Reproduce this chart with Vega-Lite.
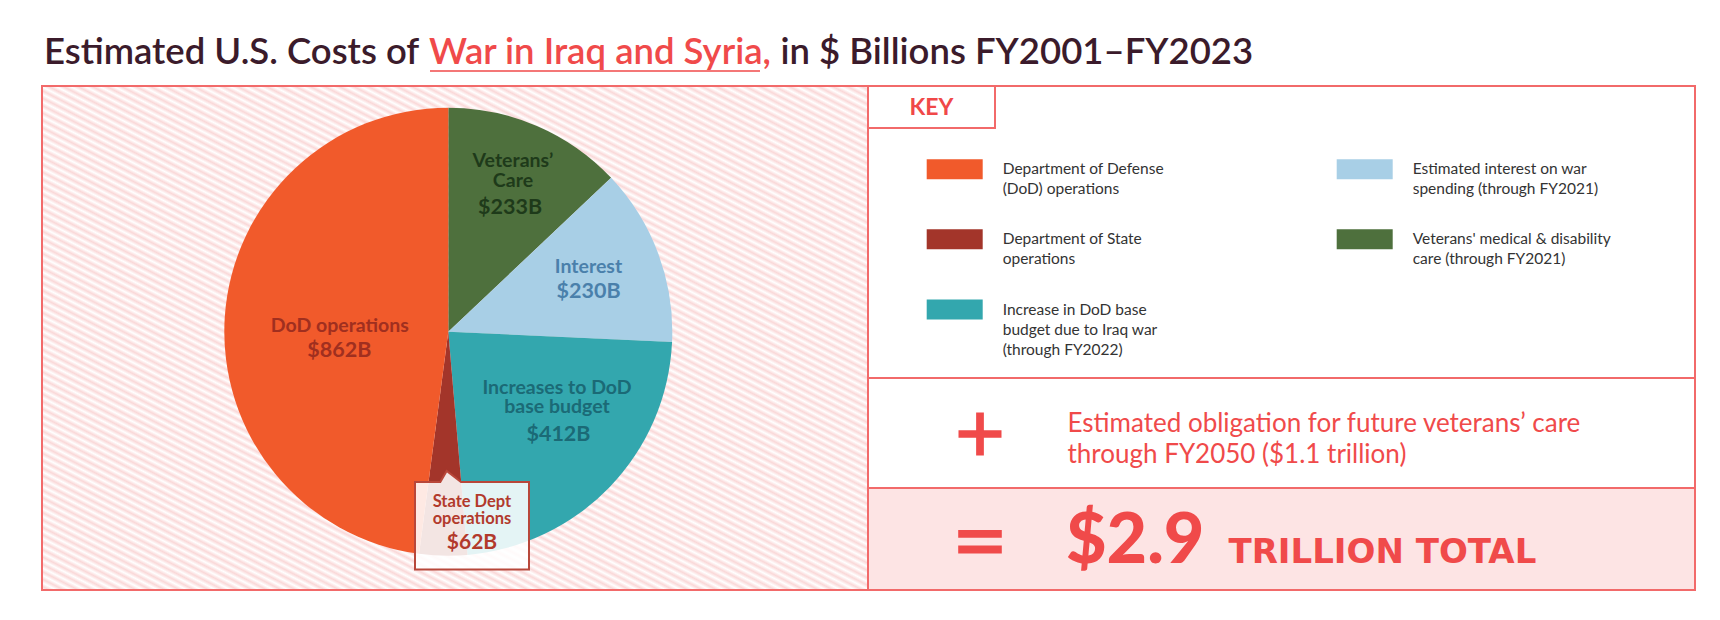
{
 "$schema": "https://vega.github.io/schema/vega-lite/v6.json",
 "background": "#ffffff",
 "padding": {"left": 41, "top": 0, "right": 0, "bottom": 0},
 "config": {
  "font": "Lato",
  "view": {"stroke": null},
  "concat": {"spacing": 0},
  "style": {"guide-label": {"lineHeight": 20}}
 },
 "spacing": 0,
 "bounds": "flush",
 "vconcat": [
  {
   "width": 1653, "height": 86,
   "data": {"values": [{"lead": "Estimated U.S. Costs of", "topic": "War in Iraq and Syria,", "tail": "in $ Billions FY2001–FY2023"}]},
   "layer": [
    {"mark": {"type": "text", "align": "left", "baseline": "alphabetic", "fontSize": 36.5, "fontWeight": 600, "color": "#3b1b2b", "dx": -824.5, "dy": 21}, "encoding": {"text": {"field": "lead", "type": "nominal"}}},
    {"mark": {"type": "text", "align": "left", "baseline": "alphabetic", "fontSize": 36.5, "fontWeight": 600, "color": "#f04a4a", "dx": -439.5, "dy": 21}, "encoding": {"text": {"field": "topic", "type": "nominal"}}},
    {"mark": {"type": "text", "align": "left", "baseline": "alphabetic", "fontSize": 36.5, "fontWeight": 600, "color": "#3b1b2b", "dx": -88, "dy": 21}, "encoding": {"text": {"field": "tail", "type": "nominal"}}},
    {"mark": {"type": "point", "shape": "M-1,-0.005H1V0.005H-1Z", "size": 108900, "filled": true, "color": "#f04a4a", "opacity": 1, "xOffset": -273.5, "yOffset": 28}, "encoding": {}}
   ]
  },
  {
   "spacing": 0,
   "bounds": "flush",
   "hconcat": [
    {
     "width": 826, "height": 504,
     "view": {
      "stroke": "#f26a6a", "strokeWidth": 2,
      "fill": {"gradient": "linear", "x1": 0, "y1": 1, "x2": 0.903, "y2": -0.081, "stops": [
{"offset":0,"color":"#fff"},{"offset":0.004,"color":"#fad8d8"},{"offset":0.008,"color":"#fff"},{"offset":0.012,"color":"#fad8d8"},{"offset":0.016,"color":"#fff"},{"offset":0.02,"color":"#fad8d8"},{"offset":0.024,"color":"#fff"},{"offset":0.028,"color":"#fad8d8"},{"offset":0.032,"color":"#fff"},{"offset":0.036,"color":"#fad8d8"},{"offset":0.04,"color":"#fff"},{"offset":0.044,"color":"#fad8d8"},{"offset":0.048,"color":"#fff"},{"offset":0.052,"color":"#fad8d8"},{"offset":0.056,"color":"#fff"},{"offset":0.06,"color":"#fad8d8"},{"offset":0.064,"color":"#fff"},{"offset":0.068,"color":"#fad8d8"},{"offset":0.072,"color":"#fff"},{"offset":0.076,"color":"#fad8d8"},{"offset":0.08,"color":"#fff"},{"offset":0.084,"color":"#fad8d8"},{"offset":0.088,"color":"#fff"},{"offset":0.092,"color":"#fad8d8"},{"offset":0.096,"color":"#fff"},
{"offset":0.1,"color":"#fad8d8"},{"offset":0.104,"color":"#fff"},{"offset":0.108,"color":"#fad8d8"},{"offset":0.112,"color":"#fff"},{"offset":0.116,"color":"#fad8d8"},{"offset":0.12,"color":"#fff"},{"offset":0.124,"color":"#fad8d8"},{"offset":0.128,"color":"#fff"},{"offset":0.132,"color":"#fad8d8"},{"offset":0.136,"color":"#fff"},{"offset":0.14,"color":"#fad8d8"},{"offset":0.144,"color":"#fff"},{"offset":0.148,"color":"#fad8d8"},{"offset":0.152,"color":"#fff"},{"offset":0.156,"color":"#fad8d8"},{"offset":0.16,"color":"#fff"},{"offset":0.164,"color":"#fad8d8"},{"offset":0.168,"color":"#fff"},{"offset":0.172,"color":"#fad8d8"},{"offset":0.176,"color":"#fff"},{"offset":0.18,"color":"#fad8d8"},{"offset":0.184,"color":"#fff"},{"offset":0.188,"color":"#fad8d8"},{"offset":0.192,"color":"#fff"},{"offset":0.196,"color":"#fad8d8"},
{"offset":0.2,"color":"#fff"},{"offset":0.204,"color":"#fad8d8"},{"offset":0.208,"color":"#fff"},{"offset":0.212,"color":"#fad8d8"},{"offset":0.216,"color":"#fff"},{"offset":0.22,"color":"#fad8d8"},{"offset":0.224,"color":"#fff"},{"offset":0.228,"color":"#fad8d8"},{"offset":0.232,"color":"#fff"},{"offset":0.236,"color":"#fad8d8"},{"offset":0.24,"color":"#fff"},{"offset":0.244,"color":"#fad8d8"},{"offset":0.248,"color":"#fff"},{"offset":0.252,"color":"#fad8d8"},{"offset":0.256,"color":"#fff"},{"offset":0.26,"color":"#fad8d8"},{"offset":0.264,"color":"#fff"},{"offset":0.268,"color":"#fad8d8"},{"offset":0.272,"color":"#fff"},{"offset":0.276,"color":"#fad8d8"},{"offset":0.28,"color":"#fff"},{"offset":0.284,"color":"#fad8d8"},{"offset":0.288,"color":"#fff"},{"offset":0.292,"color":"#fad8d8"},{"offset":0.296,"color":"#fff"},
{"offset":0.3,"color":"#fad8d8"},{"offset":0.304,"color":"#fff"},{"offset":0.308,"color":"#fad8d8"},{"offset":0.312,"color":"#fff"},{"offset":0.316,"color":"#fad8d8"},{"offset":0.32,"color":"#fff"},{"offset":0.324,"color":"#fad8d8"},{"offset":0.328,"color":"#fff"},{"offset":0.332,"color":"#fad8d8"},{"offset":0.336,"color":"#fff"},{"offset":0.34,"color":"#fad8d8"},{"offset":0.344,"color":"#fff"},{"offset":0.348,"color":"#fad8d8"},{"offset":0.352,"color":"#fff"},{"offset":0.356,"color":"#fad8d8"},{"offset":0.36,"color":"#fff"},{"offset":0.364,"color":"#fad8d8"},{"offset":0.368,"color":"#fff"},{"offset":0.372,"color":"#fad8d8"},{"offset":0.376,"color":"#fff"},{"offset":0.38,"color":"#fad8d8"},{"offset":0.384,"color":"#fff"},{"offset":0.388,"color":"#fad8d8"},{"offset":0.392,"color":"#fff"},{"offset":0.396,"color":"#fad8d8"},
{"offset":0.4,"color":"#fff"},{"offset":0.404,"color":"#fad8d8"},{"offset":0.408,"color":"#fff"},{"offset":0.412,"color":"#fad8d8"},{"offset":0.416,"color":"#fff"},{"offset":0.42,"color":"#fad8d8"},{"offset":0.424,"color":"#fff"},{"offset":0.428,"color":"#fad8d8"},{"offset":0.432,"color":"#fff"},{"offset":0.436,"color":"#fad8d8"},{"offset":0.44,"color":"#fff"},{"offset":0.444,"color":"#fad8d8"},{"offset":0.448,"color":"#fff"},{"offset":0.452,"color":"#fad8d8"},{"offset":0.456,"color":"#fff"},{"offset":0.46,"color":"#fad8d8"},{"offset":0.464,"color":"#fff"},{"offset":0.468,"color":"#fad8d8"},{"offset":0.472,"color":"#fff"},{"offset":0.476,"color":"#fad8d8"},{"offset":0.48,"color":"#fff"},{"offset":0.484,"color":"#fad8d8"},{"offset":0.488,"color":"#fff"},{"offset":0.492,"color":"#fad8d8"},{"offset":0.496,"color":"#fff"},
{"offset":0.5,"color":"#fad8d8"},{"offset":0.504,"color":"#fff"},{"offset":0.508,"color":"#fad8d8"},{"offset":0.512,"color":"#fff"},{"offset":0.516,"color":"#fad8d8"},{"offset":0.52,"color":"#fff"},{"offset":0.524,"color":"#fad8d8"},{"offset":0.528,"color":"#fff"},{"offset":0.532,"color":"#fad8d8"},{"offset":0.536,"color":"#fff"},{"offset":0.54,"color":"#fad8d8"},{"offset":0.544,"color":"#fff"},{"offset":0.548,"color":"#fad8d8"},{"offset":0.552,"color":"#fff"},{"offset":0.556,"color":"#fad8d8"},{"offset":0.56,"color":"#fff"},{"offset":0.564,"color":"#fad8d8"},{"offset":0.568,"color":"#fff"},{"offset":0.572,"color":"#fad8d8"},{"offset":0.576,"color":"#fff"},{"offset":0.58,"color":"#fad8d8"},{"offset":0.584,"color":"#fff"},{"offset":0.588,"color":"#fad8d8"},{"offset":0.592,"color":"#fff"},{"offset":0.596,"color":"#fad8d8"},
{"offset":0.6,"color":"#fff"},{"offset":0.604,"color":"#fad8d8"},{"offset":0.608,"color":"#fff"},{"offset":0.612,"color":"#fad8d8"},{"offset":0.616,"color":"#fff"},{"offset":0.62,"color":"#fad8d8"},{"offset":0.624,"color":"#fff"},{"offset":0.628,"color":"#fad8d8"},{"offset":0.632,"color":"#fff"},{"offset":0.636,"color":"#fad8d8"},{"offset":0.64,"color":"#fff"},{"offset":0.644,"color":"#fad8d8"},{"offset":0.648,"color":"#fff"},{"offset":0.652,"color":"#fad8d8"},{"offset":0.656,"color":"#fff"},{"offset":0.66,"color":"#fad8d8"},{"offset":0.664,"color":"#fff"},{"offset":0.668,"color":"#fad8d8"},{"offset":0.672,"color":"#fff"},{"offset":0.676,"color":"#fad8d8"},{"offset":0.68,"color":"#fff"},{"offset":0.684,"color":"#fad8d8"},{"offset":0.688,"color":"#fff"},{"offset":0.692,"color":"#fad8d8"},{"offset":0.696,"color":"#fff"},
{"offset":0.7,"color":"#fad8d8"},{"offset":0.704,"color":"#fff"},{"offset":0.708,"color":"#fad8d8"},{"offset":0.712,"color":"#fff"},{"offset":0.716,"color":"#fad8d8"},{"offset":0.72,"color":"#fff"},{"offset":0.724,"color":"#fad8d8"},{"offset":0.728,"color":"#fff"},{"offset":0.732,"color":"#fad8d8"},{"offset":0.736,"color":"#fff"},{"offset":0.74,"color":"#fad8d8"},{"offset":0.744,"color":"#fff"},{"offset":0.748,"color":"#fad8d8"},{"offset":0.752,"color":"#fff"},{"offset":0.756,"color":"#fad8d8"},{"offset":0.76,"color":"#fff"},{"offset":0.764,"color":"#fad8d8"},{"offset":0.768,"color":"#fff"},{"offset":0.772,"color":"#fad8d8"},{"offset":0.776,"color":"#fff"},{"offset":0.78,"color":"#fad8d8"},{"offset":0.784,"color":"#fff"},{"offset":0.788,"color":"#fad8d8"},{"offset":0.792,"color":"#fff"},{"offset":0.796,"color":"#fad8d8"},
{"offset":0.8,"color":"#fff"},{"offset":0.804,"color":"#fad8d8"},{"offset":0.808,"color":"#fff"},{"offset":0.812,"color":"#fad8d8"},{"offset":0.816,"color":"#fff"},{"offset":0.82,"color":"#fad8d8"},{"offset":0.824,"color":"#fff"},{"offset":0.828,"color":"#fad8d8"},{"offset":0.832,"color":"#fff"},{"offset":0.836,"color":"#fad8d8"},{"offset":0.84,"color":"#fff"},{"offset":0.844,"color":"#fad8d8"},{"offset":0.848,"color":"#fff"},{"offset":0.852,"color":"#fad8d8"},{"offset":0.856,"color":"#fff"},{"offset":0.86,"color":"#fad8d8"},{"offset":0.864,"color":"#fff"},{"offset":0.868,"color":"#fad8d8"},{"offset":0.872,"color":"#fff"},{"offset":0.876,"color":"#fad8d8"},{"offset":0.88,"color":"#fff"},{"offset":0.884,"color":"#fad8d8"},{"offset":0.888,"color":"#fff"},{"offset":0.892,"color":"#fad8d8"},{"offset":0.896,"color":"#fff"},
{"offset":0.9,"color":"#fad8d8"},{"offset":0.904,"color":"#fff"},{"offset":0.908,"color":"#fad8d8"},{"offset":0.912,"color":"#fff"},{"offset":0.916,"color":"#fad8d8"},{"offset":0.92,"color":"#fff"},{"offset":0.924,"color":"#fad8d8"},{"offset":0.928,"color":"#fff"},{"offset":0.932,"color":"#fad8d8"},{"offset":0.936,"color":"#fff"},{"offset":0.94,"color":"#fad8d8"},{"offset":0.944,"color":"#fff"},{"offset":0.948,"color":"#fad8d8"},{"offset":0.952,"color":"#fff"},{"offset":0.956,"color":"#fad8d8"},{"offset":0.96,"color":"#fff"},{"offset":0.964,"color":"#fad8d8"},{"offset":0.968,"color":"#fff"},{"offset":0.972,"color":"#fad8d8"},{"offset":0.976,"color":"#fff"},{"offset":0.98,"color":"#fad8d8"},{"offset":0.984,"color":"#fff"},{"offset":0.988,"color":"#fad8d8"},{"offset":0.992,"color":"#fff"},{"offset":0.996,"color":"#fad8d8"},
{"offset":1,"color":"#fff"}
      ]}
     },
     "data": {"values": [
      {"category": "Veterans' medical & disability care (through FY2021)", "label": "Veterans’\nCare", "amount": "$233B", "value": 233},
      {"category": "Estimated interest on war spending (through FY2021)", "label": "Interest", "amount": "$230B", "value": 230},
      {"category": "Increase in DoD base budget due to Iraq war (through FY2022)", "label": "Increases to DoD\nbase budget", "amount": "$412B", "value": 412},
      {"category": "Department of State operations", "label": "State Dept\noperations", "amount": "$62B", "value": 62},
      {"category": "Department of Defense (DoD) operations", "label": "DoD operations", "amount": "$862B", "value": 862}
     ]},
     "transform": [{"window": [{"op": "row_number", "as": "k"}]}],
     "layer": [
      {
       "mark": {"type": "arc", "outerRadius": 224, "xOffset": -6.7, "yOffset": -6.3},
       "encoding": {
        "theta": {"field": "value", "type": "quantitative", "stack": true},
        "order": {"field": "k", "type": "quantitative"},
        "color": {
         "field": "category", "type": "nominal",
         "scale": {
          "domain": ["Department of Defense (DoD) operations", "Department of State operations", "Increase in DoD base budget due to Iraq war (through FY2022)", "Estimated interest on war spending (through FY2021)", "Veterans' medical & disability care (through FY2021)"],
          "range": ["#f15a2b", "#a3352a", "#33a7ae", "#a8cfe6", "#4e703d"]
         },
         "legend": {
          "orient": "none", "legendX": 884.7, "legendY": 141,
          "columns": 2, "title": null, "padding": 0,
          "symbolType": "M-1,-0.357H1V0.357H-1Z", "symbolSize": 3136, "symbolStrokeWidth": 0, "symbolOpacity": 1,
          "labelFont": "Lato", "labelFontSize": 15.5, "labelColor": "#333333", "labelOffset": 20, "labelLimit": 400,
          "rowPadding": 13.3, "columnPadding": 172,
          "labelExpr": "datum.label == 'Department of Defense (DoD) operations' ? ['Department of Defense', '(DoD) operations'] : datum.label == 'Department of State operations' ? ['Department of State', 'operations'] : datum.label == 'Increase in DoD base budget due to Iraq war (through FY2022)' ? ['Increase in DoD base', 'budget due to Iraq war', '(through FY2022)'] : datum.label == 'Estimated interest on war spending (through FY2021)' ? ['Estimated interest on war', 'spending (through FY2021)'] : [\"Veterans' medical & disability\", 'care (through FY2021)']"
         }
        }
       }
      },
      {
       "transform": [{"filter": "datum.value === 62"}],
       "mark": {"type": "point", "shape": "M-1,-0.767H-0.556L-0.444,-0.96L-0.193,-0.767H1V0.767H-1Z", "size": 12996, "filled": true, "fill": "#ffffff", "fillOpacity": 0.87, "stroke": "#b8473a", "strokeWidth": 2, "opacity": 1, "xOffset": 17, "yOffset": 187.7},
       "encoding": {}
      },
      {
       "mark": {"type": "text", "radius": 175, "dx": -11.3, "dy": -9.8, "align": "center", "baseline": "alphabetic", "fontSize": 19.5, "fontWeight": 700, "color": "#1e3a1a", "lineBreak": "\n", "lineHeight": 19.5},
       "encoding": {"theta": {"field": "value", "type": "quantitative", "stack": true}, "order": {"field": "k", "type": "quantitative"}, "text": {"condition": {"test": "datum.value === 233", "field": "label", "type": "nominal"}, "value": ""}}
      },
      {
       "mark": {"type": "text", "radius": 133.7, "dx": 2.1, "dy": -1.5, "align": "center", "baseline": "alphabetic", "fontSize": 21.5, "fontWeight": 700, "color": "#1e3a1a"},
       "encoding": {"theta": {"field": "value", "type": "quantitative", "stack": true}, "order": {"field": "k", "type": "quantitative"}, "text": {"condition": {"test": "datum.value === 233", "field": "amount", "type": "nominal"}, "value": ""}}
      },
      {
       "mark": {"type": "text", "radius": 151.8, "dx": -8.8, "dy": -11.9, "align": "center", "baseline": "alphabetic", "fontSize": 19.5, "fontWeight": 700, "color": "#4a80ab"},
       "encoding": {"theta": {"field": "value", "type": "quantitative", "stack": true}, "order": {"field": "k", "type": "quantitative"}, "text": {"condition": {"test": "datum.value === 230", "field": "label", "type": "nominal"}, "value": ""}}
      },
      {
       "mark": {"type": "text", "radius": 143.1, "dx": -0.6, "dy": 10.1, "align": "center", "baseline": "alphabetic", "fontSize": 21.5, "fontWeight": 700, "color": "#4a80ab"},
       "encoding": {"theta": {"field": "value", "type": "quantitative", "stack": true}, "order": {"field": "k", "type": "quantitative"}, "text": {"condition": {"test": "datum.value === 230", "field": "amount", "type": "nominal"}, "value": ""}}
      },
      {
       "mark": {"type": "text", "radius": 108.3, "dx": -7.1, "dy": 0.8, "align": "center", "baseline": "alphabetic", "fontSize": 19.5, "fontWeight": 700, "color": "#a02f1f"},
       "encoding": {"theta": {"field": "value", "type": "quantitative", "stack": true}, "order": {"field": "k", "type": "quantitative"}, "text": {"condition": {"test": "datum.value === 862", "field": "label", "type": "nominal"}, "value": ""}}
      },
      {
       "mark": {"type": "text", "radius": 107.1, "dx": -8.8, "dy": 25.7, "align": "center", "baseline": "alphabetic", "fontSize": 21.5, "fontWeight": 700, "color": "#a02f1f"},
       "encoding": {"theta": {"field": "value", "type": "quantitative", "stack": true}, "order": {"field": "k", "type": "quantitative"}, "text": {"condition": {"test": "datum.value === 862", "field": "amount", "type": "nominal"}, "value": ""}}
      },
      {
       "mark": {"type": "text", "radius": 122.2, "dx": 13.9, "dy": -29, "align": "center", "baseline": "alphabetic", "fontSize": 19.5, "fontWeight": 700, "color": "#1b6a76", "lineBreak": "\n", "lineHeight": 19},
       "encoding": {"theta": {"field": "value", "type": "quantitative", "stack": true}, "order": {"field": "k", "type": "quantitative"}, "text": {"condition": {"test": "datum.value === 412", "field": "label", "type": "nominal"}, "value": ""}}
      },
      {
       "mark": {"type": "text", "radius": 154.5, "dx": -7.9, "dy": -4, "align": "center", "baseline": "alphabetic", "fontSize": 21.5, "fontWeight": 700, "color": "#1b6a76"},
       "encoding": {"theta": {"field": "value", "type": "quantitative", "stack": true}, "order": {"field": "k", "type": "quantitative"}, "text": {"condition": {"test": "datum.value === 412", "field": "amount", "type": "nominal"}, "value": ""}}
      },
      {
       "mark": {"type": "text", "radius": 174.4, "dx": 20.9, "dy": -5.7, "align": "center", "baseline": "alphabetic", "fontSize": 16.5, "fontWeight": 700, "color": "#b23a2c", "lineBreak": "\n", "lineHeight": 17.6},
       "encoding": {"theta": {"field": "value", "type": "quantitative", "stack": true}, "order": {"field": "k", "type": "quantitative"}, "text": {"condition": {"test": "datum.value === 62", "field": "label", "type": "nominal"}, "value": ""}}
      },
      {
       "mark": {"type": "text", "radius": 217, "dx": 21.9, "dy": -5.6, "align": "center", "baseline": "alphabetic", "fontSize": 21, "fontWeight": 700, "color": "#b23a2c"},
       "encoding": {"theta": {"field": "value", "type": "quantitative", "stack": true}, "order": {"field": "k", "type": "quantitative"}, "text": {"condition": {"test": "datum.value === 62", "field": "amount", "type": "nominal"}, "value": ""}}
      }
     ]
    },
    {
     "spacing": 0,
     "bounds": "flush",
     "vconcat": [
      {
       "width": 827, "height": 292,
       "view": {"stroke": "#f26a6a", "strokeWidth": 2},
       "data": {"values": [{"heading": "KEY"}]},
       "layer": [
        {"mark": {"type": "point", "shape": "M-1,-0.3307H1V0.3307H-1Z", "size": 16129, "filled": false, "color": "#f26a6a", "strokeWidth": 2, "opacity": 1, "xOffset": -350, "yOffset": -125}, "encoding": {}},
        {"mark": {"type": "text", "align": "center", "baseline": "alphabetic", "fontSize": 23, "fontWeight": 700, "color": "#f04848", "dx": -350, "dy": -117}, "encoding": {"text": {"field": "heading", "type": "nominal"}}}
       ]
      },
      {
       "width": 827, "height": 110,
       "view": {"stroke": "#f26a6a", "strokeWidth": 2},
       "data": {"values": [{"note": "Estimated obligation for future veterans’ care\nthrough FY2050 ($1.1 trillion)"}]},
       "layer": [
        {"mark": {"type": "point", "shape": "M-1,-0.18H-0.18V-1H0.18V-0.18H1V0.18H0.18V1H-0.18V0.18H-1Z", "size": 1849, "filled": true, "color": "#f04a4a", "opacity": 1, "xOffset": -301.5, "yOffset": 1}, "encoding": {}},
        {"mark": {"type": "text", "align": "left", "baseline": "alphabetic", "fontSize": 26, "color": "#f04a4a", "lineBreak": "\n", "lineHeight": 31, "dx": -214, "dy": -1.3}, "encoding": {"text": {"field": "note", "type": "nominal"}}}
       ]
      },
      {
       "width": 827, "height": 102,
       "view": {"stroke": "#f26a6a", "strokeWidth": 2, "fill": "#fde4e4"},
       "data": {"values": [{"total": "$2.9", "unit": "TRILLION TOTAL"}]},
       "layer": [
        {"mark": {"type": "point", "shape": "M-1,-0.537H1V-0.18H-1Z M-1,0.18H1V0.537H-1Z", "size": 1901, "filled": true, "color": "#f04a4a", "opacity": 1, "xOffset": -301.5, "yOffset": 2.7}, "encoding": {}},
        {"mark": {"type": "text", "align": "left", "baseline": "alphabetic", "fontSize": 70, "fontWeight": 900, "color": "#f04a4a", "dx": -215.5, "dy": 23.7}, "encoding": {"text": {"field": "total", "type": "nominal"}}},
        {"mark": {"type": "text", "align": "left", "baseline": "alphabetic", "font": "DejaVu Sans", "fontSize": 34, "fontWeight": "bold", "color": "#f04a4a", "dx": -53, "dy": 23.7}, "encoding": {"text": {"field": "unit", "type": "nominal"}}}
       ]
      }
     ]
    }
   ]
  }
 ]
}
